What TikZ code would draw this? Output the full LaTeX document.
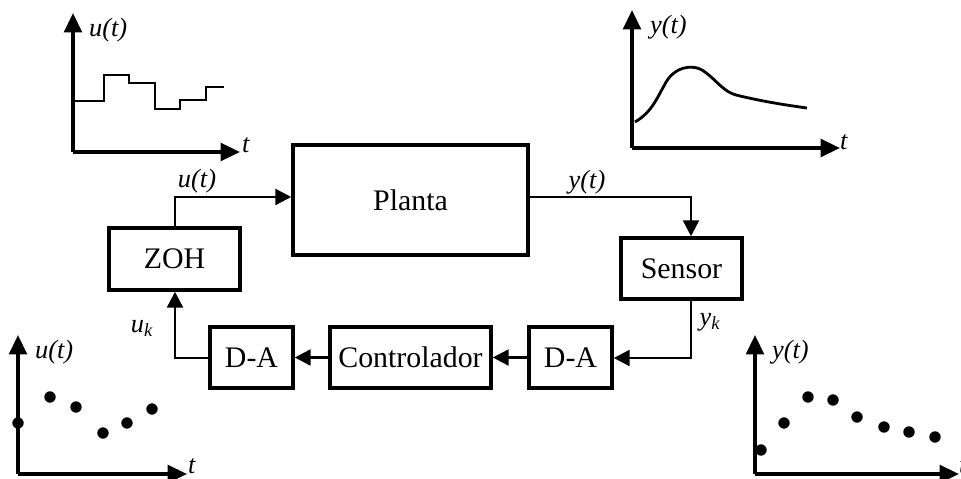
\documentclass[tikz,border=0pt]{standalone}
\usepackage{fontspec}
\setmainfont{Liberation Serif}
\usetikzlibrary{arrows.meta,positioning,calc}

\tikzset{
  block/.style={draw,line width=2pt,inner sep=0pt,font=\fontsize{17}{20}\selectfont},
  link/.style={line width=1.4pt},
  axis/.style={line width=2pt,-{Triangle[length=11pt,width=10pt]}},
  sig/.style={font=\fontsize{15}{18}\selectfont\itshape,inner sep=1pt},
  dot/.style={circle,fill,inner sep=0pt,minimum size=6.5pt}
}

\begin{document}
\begin{tikzpicture}[x=0.02cm,y=-0.02cm,>={Triangle[length=9pt,width=9pt]}]
  \useasboundingbox (0,0) rectangle (961,479);

  % Blocks
  \node[block,minimum width=235*0.02cm,minimum height=110*0.02cm] (planta) at (410.5,200) {Planta};
  \node[block,minimum width=131*0.02cm,minimum height=62*0.02cm] (zoh) at (174.5,259) {ZOH};
  \node[block,minimum width=121*0.02cm,minimum height=61*0.02cm] (sensor) at (681.5,268.5) {Sensor};
  \node[block,minimum width=83*0.02cm,minimum height=61*0.02cm] (dar) at (570.5,357.5) {D-A};
  \node[block,minimum width=161*0.02cm,minimum height=61*0.02cm] (ctrl) at (410.5,357.5) {Controlador};
  \node[block,minimum width=83*0.02cm,minimum height=61*0.02cm] (dal) at (251.5,357.5) {D-A};

  % Connectors
  \coordinate (ut) at (175,197);
  \coordinate (yt) at (691,197);
  \coordinate (yk) at (691,358);
  \coordinate (uk) at (175,358);
  \draw[link,->] (zoh.north -| ut) -- (ut) -- (ut -| planta.west);
  \draw[link,->] (yt -| planta.east) -- (yt) -- (yt |- sensor.north);
  \draw[link,->] (yk |- sensor.south) -- (yk) -- (yk -| dar.east);
  \draw[link,->] (dar) -- (ctrl);
  \draw[link,->] (ctrl) -- (dal);
  \draw[link,->] (uk -| dal.west) -- (uk) -- (uk |- zoh.south);

  % Signal labels
  \node[sig] (lut) at (197,181) {u(t)};
  \node[sig] (lyt) at (587,182) {y(t)};
  \node[sig] (luk) at (142,328) {u\textsubscript{k}};
  \node[sig] (lyk) at (710,322) {y\textsubscript{k}};

  % Plot: u(t) continuous
  \coordinate (o1) at (73,152);
  \draw[axis] (o1) -- (73,13);
  \draw[axis] (o1) -- (240,152);
  \node[sig,anchor=west] (p1u) at (87,30) {u(t)};
  \node[sig,anchor=west] (p1t) at (240,145) {t};
  \draw[line width=1.6pt] (73,101) -- (104,101) -- (104,75) -- (129,75) -- (129,83) -- (155,83)
    -- (155,109) -- (180,109) -- (180,100) -- (206,100) -- (206,87) -- (224,87);

  % Plot: y(t) continuous
  \coordinate (o2) at (632,148);
  \draw[axis] (o2) -- (632,10);
  \draw[axis] (o2) -- (840,148);
  \node[sig,anchor=west] (p2y) at (648,27) {y(t)};
  \node[sig,anchor=west] (p2t) at (838,142) {t};
  \draw[line width=1.6pt] (635,122) .. controls (652,112) and (657,98) .. (665,84)
    .. controls (673,68) and (692,62) .. (705,72)
    .. controls (716,80) and (724,92) .. (736,95)
    .. controls (760,101) and (785,105) .. (807,108);

  % Plot: u(t) sampled
  \coordinate (o3) at (18,474);
  \draw[axis] (o3) -- (18,335);
  \draw[axis] (o3) -- (187,474);
  \node[sig,anchor=west] (p3u) at (33,352) {u(t)};
  \node[sig,anchor=west] (p3t) at (186,466) {t};
  \foreach \px/\py in {18/423,50/397,76/407,103/433,127/423,152/409}
    \node[dot] at (\px,\py) {};

  % Plot: y(t) sampled
  \coordinate (o4) at (755,474);
  \draw[axis] (o4) -- (755,335);
  \draw[axis] (o4) -- (959,474);
  \node[sig,anchor=west] (p4y) at (770,352) {y(t)};
  \node[sig,anchor=west] (p4t) at (957,466) {t};
  \foreach \px/\py in {761/450,784/423,808/397,833/400,857/417,884/427,909/432,935/437}
    \node[dot] at (\px,\py) {};
\end{tikzpicture}
\end{document}
